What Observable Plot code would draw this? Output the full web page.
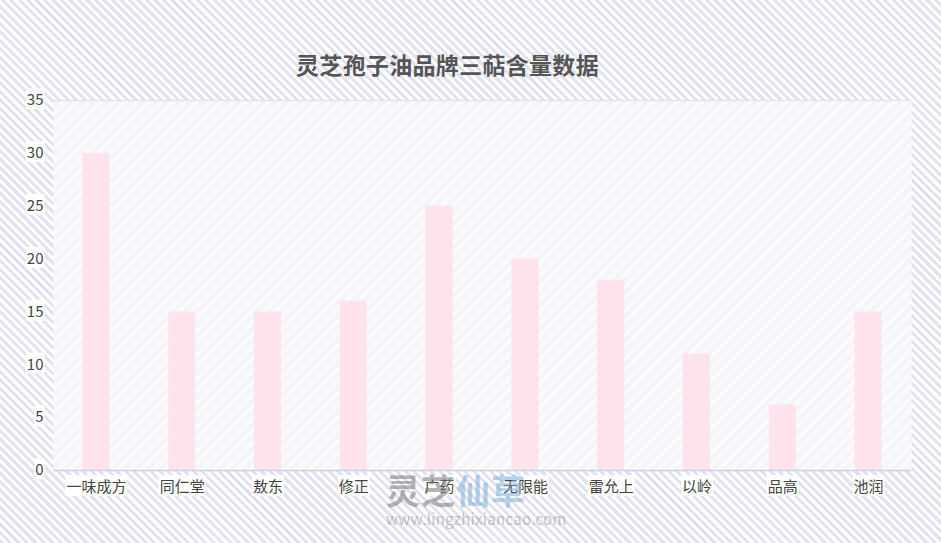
<!DOCTYPE html>
<html><head><meta charset="utf-8">
<script src="https://cdn.jsdelivr.net/npm/d3@7"></script>
<script src="https://cdn.jsdelivr.net/npm/@observablehq/plot@0.6"></script>
<style>
html,body{margin:0;padding:0;}
body{width:941px;height:543px;overflow:hidden;position:relative;
background:repeating-linear-gradient(45deg,#e2e2f0 0 3px,#ffffff 3px 6px);
font-family:"Noto Sans CJK SC","Noto Sans",sans-serif;}
#title{position:absolute;left:0;width:895px;top:47px;text-align:center;font-size:23px;font-weight:bold;color:#555;letter-spacing:0.3px;}
#chart{position:absolute;left:0;top:0;}
#wm{position:absolute;left:386px;top:470px;pointer-events:none;opacity:0.55;}
#wm .big{font-size:34px;font-weight:bold;line-height:40px;letter-spacing:1px;}
#wm .url{font-size:15px;color:#999;line-height:18px;letter-spacing:0.3px;}
</style></head>
<body>
<div id="chart"></div>
<div id="title">灵芝孢子油品牌三萜含量数据</div>
<div id="wm"><div class="big"><span style="color:#777">灵芝</span><span style="color:#7aaed6">仙草</span></div><div class="url">www.lingzhixiancao.com</div></div>
<script>
const brands = ["一味成方","同仁堂","敖东","修正","广药","无限能","雷允上","以岭","品高","池润"];
const values = [30, 15, 15, 16, 25, 20, 18, 11, 6.2, 15];
const yTicks = [0, 5, 10, 15, 20, 25, 30, 35];

const data = brands.map((b, i) => ({brand: b, value: values[i]}));

const plot = Plot.plot({
  width: 941,
  height: 543,
  marginLeft: 53,
  marginRight: 30,
  marginTop: 100,
  marginBottom: 73,
  style: {background: "transparent", fontFamily: "'Noto Sans CJK SC','Noto Sans',sans-serif", fontSize: "15px", color: "#555"},
  x: {domain: brands, paddingInner: 0.685, paddingOuter: 0.3425, round: false, label: null, tickSize: 0, tickPadding: 11},
  y: {domain: [0, 35], ticks: yTicks, label: null, tickSize: 0, tickPadding: 10},
  marks: [
    Plot.frame({fill: "url(#innerStripe)", stroke: null}),
    Plot.ruleX([0], {frameAnchor: "left", stroke: "#e3e3f1", strokeWidth: 1.5}),
    Plot.ruleY([35], {stroke: "#e3e3f1", strokeWidth: 1.5}),
    Plot.ruleX([0], {frameAnchor: "right", stroke: "#e3e3f1", strokeWidth: 1.5}),
    Plot.barY(data, {x: "brand", y: "value", fill: "#fce3ee"}),
    Plot.ruleY([0], {stroke: "#cfcfdf", strokeWidth: 1.5}),
    Plot.axisX({tickSize: 0, tickPadding: 11, fill: "#444"}),
    Plot.axisY({ticks: yTicks, tickSize: 0, tickPadding: 10, fill: "#444"})
  ]
});
document.getElementById("chart").appendChild(plot);

// pattern for plot area
const ns = "http://www.w3.org/2000/svg";
const defs = document.createElementNS(ns, "defs");
defs.innerHTML = `<pattern id="innerStripe" patternUnits="userSpaceOnUse" width="8.5" height="8.5" patternTransform="rotate(45)">
  <rect width="8.5" height="8.5" fill="#fbfbfd"/><rect width="4.25" height="8.5" fill="#f4f4f9"/></pattern>`;
plot.insertBefore(defs, plot.firstChild);

// white boxes behind tick labels
plot.querySelectorAll("g[aria-label='x-axis tick label'] text, g[aria-label='y-axis tick label'] text").forEach(t => {
  const b = t.getBBox();
  const r = document.createElementNS(ns, "rect");
  r.setAttribute("x", b.x - 1);
  r.setAttribute("y", b.y);
  r.setAttribute("width", b.width + 2);
  r.setAttribute("height", b.height);
  r.setAttribute("fill", "#fff");
  const tr = t.getAttribute("transform");
  if (tr) r.setAttribute("transform", tr);
  t.parentNode.insertBefore(r, t);
});
</script>
</body></html>
